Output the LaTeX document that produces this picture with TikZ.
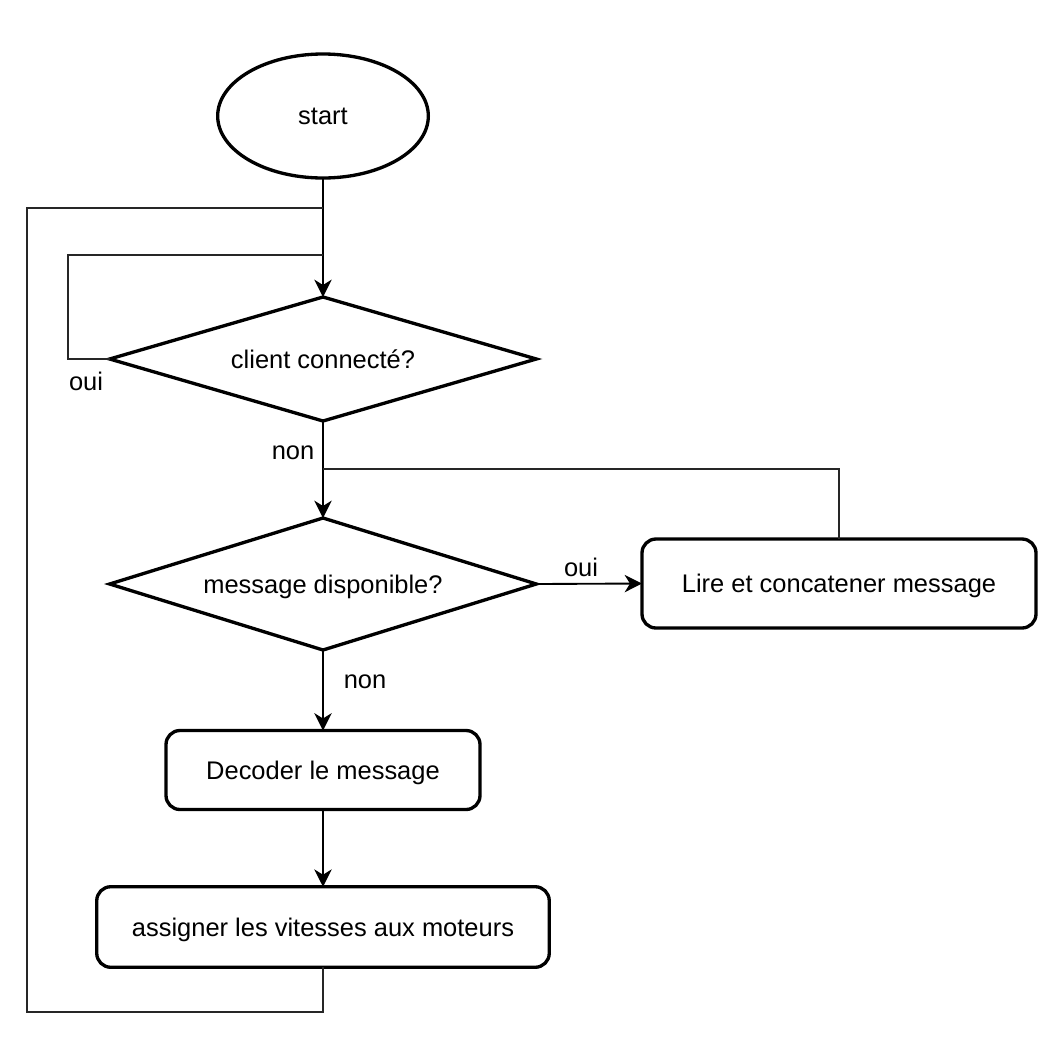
\documentclass[tikz,border=0pt]{standalone}
\usepackage{fontspec}
\setmainfont{Liberation Sans}
\usetikzlibrary{shapes.geometric,arrows.meta}
\begin{document}
\begin{tikzpicture}[x=0.75pt,y=-0.75pt,
  every node/.style={font=\fontsize{19.1}{22}\selectfont, text=black},
  shp/.style={draw=black, line width=2.5pt, inner sep=0pt, outer sep=0pt, text depth=0pt},
  startnode/.style={shp, ellipse, minimum width=158pt, minimum height=93pt},
  decision/.style={shp, diamond, aspect=3.4, minimum width=320pt},
  procbox/.style={shp, rectangle, rounded corners=10.5pt},
  arr/.style={draw=black, line width=1.4pt, -{Stealth[length=13pt,width=13pt,inset=4pt]}},
  loopline/.style={draw=black!85, line width=1.3pt},
  lbl/.style={inner sep=0pt}]
\useasboundingbox (0,0) rectangle (1061,1036);

\node[startnode] (start) at (323,116) {start};
\node[decision, minimum height=93pt] (d1) at (323,359) {client connecté?};
\node[decision, minimum height=99pt] (d2) at (323,584) {message disponible?};
\node[procbox, minimum width=295.5pt, minimum height=66.75pt] (lire) at (839,583.5) {Lire et concatener message};
\node[procbox, minimum width=235.5pt, minimum height=59.25pt] (dec) at (323,770) {Decoder le message};
\node[procbox, minimum width=339.4pt, minimum height=60.4pt] (asg) at (323,927) {assigner les vitesses aux moteurs};

\coordinate (j0) at (323,208);
\coordinate (j1) at (323,255);
\coordinate (j2) at (323,469);
\coordinate (b0) at (27,1012);
\coordinate (l0) at (68,359);

% main flow
\draw[arr] (start.south) -- (d1.north);
\draw[arr] (d1.south) -- (d2.north);
\draw[arr] (d2.east) -- (lire.west);
\draw[arr] (d2.south) -- (dec.north);
\draw[arr] (dec.south) -- (asg.north);

% loops
\draw[loopline] (d1.west) -- (l0) |- (j1);
\draw[loopline] (asg.south) |- (b0) |- (j0);
\draw[loopline] (lire.north) |- (j2);

% labels
\node[lbl] (oui1) at (86,381) {oui};
\node[lbl] (non1) at (293,453) {non};
\node[lbl] (oui2) at (581,567) {oui};
\node[lbl] (non2) at (365,682) {non};
\end{tikzpicture}
\end{document}
